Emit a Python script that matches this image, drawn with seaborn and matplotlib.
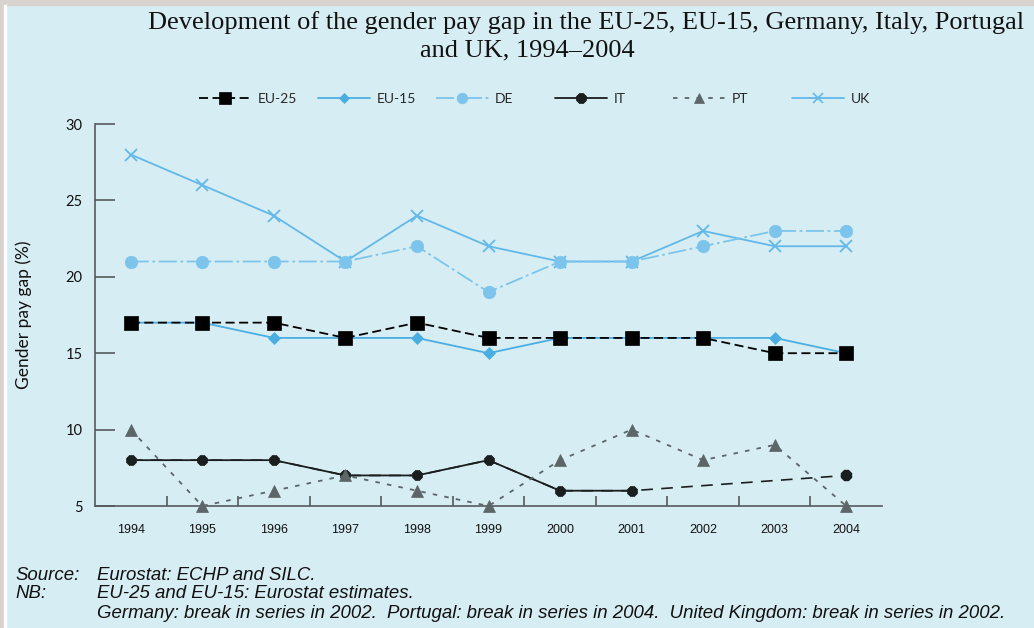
import matplotlib
matplotlib.use("Agg")
import matplotlib.pyplot as plt
from matplotlib import font_manager
from matplotlib.lines import Line2D
from matplotlib.patches import Rectangle
import numpy as np
import pandas as pd
import seaborn as sns

years = [1994, 1995, 1996, 1997, 1998, 1999, 2000, 2001, 2002, 2003, 2004]
eu25 = [17, 17, 17, 16, 17, 16, 16, 16, 16, 15, 15]
eu15 = [17, 17, 16, 16, 16, 15, 16, 16, 16, 16, 15]
de = [21, 21, 21, 21, 22, 19, 21, 21, 22, 23, 23]
it = [8, 8, 8, 7, 7, 8, 6, 6, np.nan, np.nan, 7]
pt = [10, 5, 6, 7, 6, 5, 8, 10, 8, 9, 5]
uk = [28, 26, 24, 21, 24, 22, 21, 21, 23, 22, 22]
y_ticks = [5, 10, 15, 20, 25, 30]

title_1 = "Development of the gender pay gap in the EU-25, EU-15, Germany, Italy, Portugal"
title_2 = "and UK, 1994\u20132004"
notes = [("Source:", "Eurostat: ECHP and SILC."),
         ("NB:", "EU-25 and EU-15: Eurostat estimates."),
         ("", "Germany: break in series in 2002.  Portugal: break in series in 2004.  "
              "United Kingdom: break in series in 2002.")]

df = pd.DataFrame({"year": years, "EU-25": eu25, "EU-15": eu15, "DE": de,
                   "IT": it, "PT": pt, "UK": uk})

bg = "#d7edf4"
sans = "Lato"
names = {f.name for f in font_manager.fontManager.ttflist}
narrow = "Liberation Sans Narrow" if "Liberation Sans Narrow" in names else "Liberation Sans"

sns.set_theme(style="ticks")
plt.rcParams["font.family"] = [sans, "DejaVu Sans"]

# name, color, linestyle, marker, markersize, zorder
styles = [
    ("EU-25", "#000000", (0, (5, 2.5)), "s", 9.5, 6),
    ("EU-15", "#4aaee2", "-", "D", 6.5, 5),
    ("DE", "#7cc4eb", (0, (10, 2, 1.5, 2)), "o", 9, 4),
    ("IT", "#1a1e1f", "-", "8", 8.5, 3),
    ("PT", "#5c6568", (0, (2.5, 4)), "^", 8.5, 3),
    ("UK", "#62b8e8", "-", "x", 8, 3),
]

fig = plt.figure(figsize=(10.34, 6.28), dpi=100, facecolor=bg)
ax = fig.add_axes([95 / 1034, 1 - 506 / 628, (882 - 95) / 1034, (506 - 124) / 628])
ax.set_facecolor(bg)

for name, color, ls, mk, ms, z in styles:
    d = df[["year", name]].dropna()
    if name == "IT":
        # dashed connector over the missing years
        sns.lineplot(data=d, x="year", y=name, ax=ax, color=color, linestyle=(0, (7, 5)),
                     lw=1.2, clip_on=False, zorder=z)
        d = d[d["year"] <= 2001]
    sns.lineplot(data=d, x="year", y=name, ax=ax, color=color, linestyle=ls, lw=1.3,
                 marker=mk, markersize=ms, markeredgecolor=color,
                 markeredgewidth=1.3 if mk == "x" else 0.5, clip_on=False, zorder=z)
    if name == "IT":
        ax.plot(df["year"].iloc[-1:], df["IT"].iloc[-1:], marker=mk, markersize=ms,
                color=color, clip_on=False, zorder=z)

ax.set_xlim(1993.5, 2004.5)
ax.set_ylim(5, 30)
ax.set_yticks(y_ticks)
ax.set_xticks(years)
ax.set_xticks([y + 0.5 for y in years[:-1]], minor=True)
ax.set_xticklabels([str(y) for y in years], fontsize=9, family=narrow)
ax.tick_params(axis="x", which="major", length=0, pad=13, colors="#111111")
ax.tick_params(axis="x", which="minor", direction="in", length=7, width=1.2, color="#555a5c")
ax.tick_params(axis="y", direction="in", length=14.5, width=1.2, color="#555a5c",
               pad=9, labelsize=10.5, labelcolor="#111111")
ax.set_xlabel("")
ax.set_ylabel("Gender pay gap (%)", fontsize=12.5, color="#111111", labelpad=24)
for s in ["top", "right"]:
    ax.spines[s].set_visible(False)
for s in ["left", "bottom"]:
    ax.spines[s].set_color("#555a5c")
    ax.spines[s].set_linewidth(1.2)

# legend, one evenly spaced entry per series
for i, (name, color, ls, mk, ms, z) in enumerate(styles):
    h = Line2D([], [], color=color, linestyle=ls, lw=1.3, marker=mk, markersize=ms * 0.85,
               markeredgecolor=color, markeredgewidth=1.2 if mk == "x" else 0.5)
    fig.legend(handles=[h], labels=[name], loc="center left",
               bbox_to_anchor=((199 + i * 118.5) / 1034, 1 - 99 / 628),
               frameon=False, fontsize=10, handlelength=3.8, handletextpad=0.45,
               borderpad=0, borderaxespad=0)

fig.text(148 / 1034, 1 - 23 / 628, title_1, family="Liberation Serif", fontsize=19,
         ha="left", va="center", color="#111111")
fig.text(527 / 1034, 1 - 50 / 628, title_2, family="Liberation Serif", fontsize=19,
         ha="center", va="center", color="#111111")

for i, (lab, txt) in enumerate(notes):
    yy = 1 - (575 + i * 19) / 628
    fig.text(15 / 1034, yy, lab, family=narrow, style="italic", fontsize=13.4,
             va="center", color="#111111")
    fig.text(97 / 1034, yy, txt, family=narrow, style="italic", fontsize=13.4,
             va="center", color="#111111")

# grey page edge
fig.patches.append(Rectangle((0, 1 - 5 / 628), 1, 5 / 628, transform=fig.transFigure,
                             color="#d9d3cf", zorder=10))
fig.patches.append(Rectangle((0, 0), 4 / 1034, 1, transform=fig.transFigure,
                             color="#d9d3cf", zorder=10))
fig.patches.append(Rectangle((4 / 1034, 0), 2 / 1034, 1 - 5 / 628, transform=fig.transFigure,
                             color="#ffffff", zorder=10))

fig.savefig("out.png", dpi=100, facecolor=bg)
